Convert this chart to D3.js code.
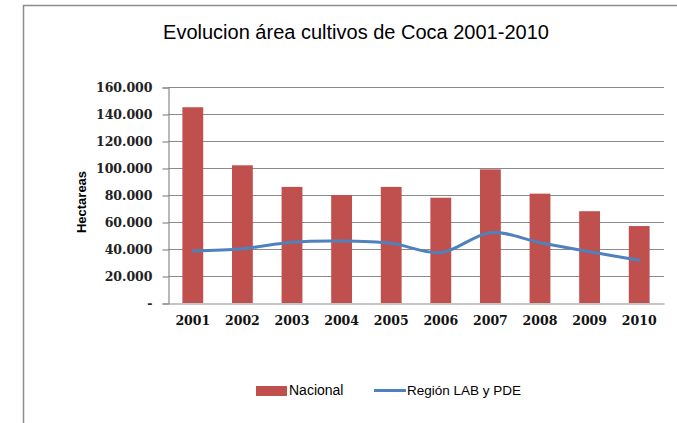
<!DOCTYPE html>
<html>
<head>
<meta charset="utf-8">
<script src="https://cdn.jsdelivr.net/npm/d3@7"></script>
<style>
  body { margin: 0; background: #fff; }
  svg { display: block; }
</style>
</head>
<body>
<div id="chart"></div>
<script>
var years = ["2001", "2002", "2003", "2004", "2005", "2006", "2007", "2008", "2009", "2010"];
var nacional = [145000, 102000, 86000, 80000, 86000, 78000, 99000, 81000, 68000, 57000];
var region = [38500, 40200, 45000, 45900, 44200, 37300, 52100, 44700, 38000, 31600];
var yTicks = [0, 20000, 40000, 60000, 80000, 100000, 120000, 140000, 160000];

var width = 677, height = 423;
var plotLeft = 168, plotRight = 664, plotTop = 87, plotBottom = 303;

var svg = d3.select("#chart").append("svg")
    .attr("width", width)
    .attr("height", height);

// frame of the chart area
svg.append("path")
    .attr("d", "M23.5," + height + "V5.5H" + width)
    .attr("fill", "none")
    .attr("stroke", "#8c8c8c")
    .attr("stroke-width", 1.5);

svg.append("text")
    .attr("x", 356)
    .attr("y", 39)
    .attr("text-anchor", "middle")
    .style("font-family", "Liberation Sans, Arial, sans-serif")
    .style("font-size", "20px")
    .attr("fill", "#000")
    .text("Evolucion área cultivos de Coca 2001-2010");

var x = d3.scaleBand()
    .domain(years)
    .range([plotLeft, plotRight])
    .paddingInner(0.58)
    .paddingOuter(0.29);

var y = d3.scaleLinear()
    .domain([0, 160000])
    .range([plotBottom, plotTop]);

var fmt = function(d) {
    if (d === 0) return "-";
    return d3.format(",")(d).replace(/,/g, ".");
};

// gridlines
svg.append("g")
    .selectAll("line")
    .data(yTicks.slice(1))
    .enter().append("line")
    .attr("x1", plotLeft)
    .attr("x2", plotRight)
    .attr("y1", function(d) { return Math.round(y(d)) + 0.5; })
    .attr("y2", function(d) { return Math.round(y(d)) + 0.5; })
    .attr("stroke", "#8a8a8a")
    .attr("stroke-width", 1.2);

// y axis
var yAxis = svg.append("g")
    .attr("transform", "translate(" + (plotLeft + 0.5) + ",0.5)")
    .call(d3.axisLeft(y).tickValues(yTicks).tickFormat(fmt).tickSize(6).tickPadding(10));
yAxis.select(".domain").attr("stroke", "#8a8a8a").attr("stroke-width", 1.2);
yAxis.selectAll(".tick line").attr("stroke", "#8a8a8a").attr("stroke-width", 1.2);
yAxis.selectAll("text")
    .style("font-family", "DejaVu Serif, serif")
    .style("font-size", "12.5px")
    .style("font-weight", "bold")
    .attr("fill", "#222");

// bars
svg.append("g")
    .selectAll("rect")
    .data(nacional)
    .enter().append("rect")
    .attr("x", function(d, i) { return x(years[i]); })
    .attr("y", function(d) { return y(d); })
    .attr("width", x.bandwidth())
    .attr("height", function(d) { return y(0) - y(d); })
    .attr("fill", "#c0504d");

// x axis
var xAxis = svg.append("g")
    .attr("transform", "translate(0," + (plotBottom + 0.5) + ")")
    .call(d3.axisBottom(x).tickSize(0).tickPadding(13));
xAxis.select(".domain").attr("stroke", "#8a8a8a").attr("stroke-width", 1.2);
xAxis.selectAll("text")
    .style("font-family", "DejaVu Serif, serif")
    .style("font-size", "12.5px")
    .style("font-weight", "bold")
    .attr("fill", "#111");

// line
var line = d3.line()
    .x(function(d, i) { return x(years[i]) + x.bandwidth() / 2; })
    .y(function(d) { return y(d); })
    .curve(d3.curveCatmullRom.alpha(0.5));

svg.append("path")
    .datum(region)
    .attr("d", line)
    .attr("fill", "none")
    .attr("stroke", "#4f81bd")
    .attr("stroke-width", 3)
    .attr("stroke-linecap", "round");

// axis title
svg.append("text")
    .attr("transform", "translate(86,202) rotate(-90)")
    .attr("text-anchor", "middle")
    .style("font-family", "Liberation Sans, Arial, sans-serif")
    .style("font-size", "13px")
    .style("font-weight", "bold")
    .text("Hectareas");

// legend
var legend = svg.append("g");
legend.append("rect")
    .attr("x", 256)
    .attr("y", 386)
    .attr("width", 31)
    .attr("height", 10)
    .attr("fill", "#c0504d");
legend.append("text")
    .attr("x", 289)
    .attr("y", 395)
    .style("font-family", "Liberation Sans, Arial, sans-serif")
    .style("font-size", "14px")
    .text("Nacional");
legend.append("line")
    .attr("x1", 374)
    .attr("x2", 406)
    .attr("y1", 390.5)
    .attr("y2", 390.5)
    .attr("stroke", "#4f81bd")
    .attr("stroke-width", 3);
legend.append("text")
    .attr("x", 407)
    .attr("y", 395)
    .style("font-family", "Liberation Sans, Arial, sans-serif")
    .style("font-size", "13.5px")
    .text("Región LAB y PDE");
</script>
</body>
</html>
